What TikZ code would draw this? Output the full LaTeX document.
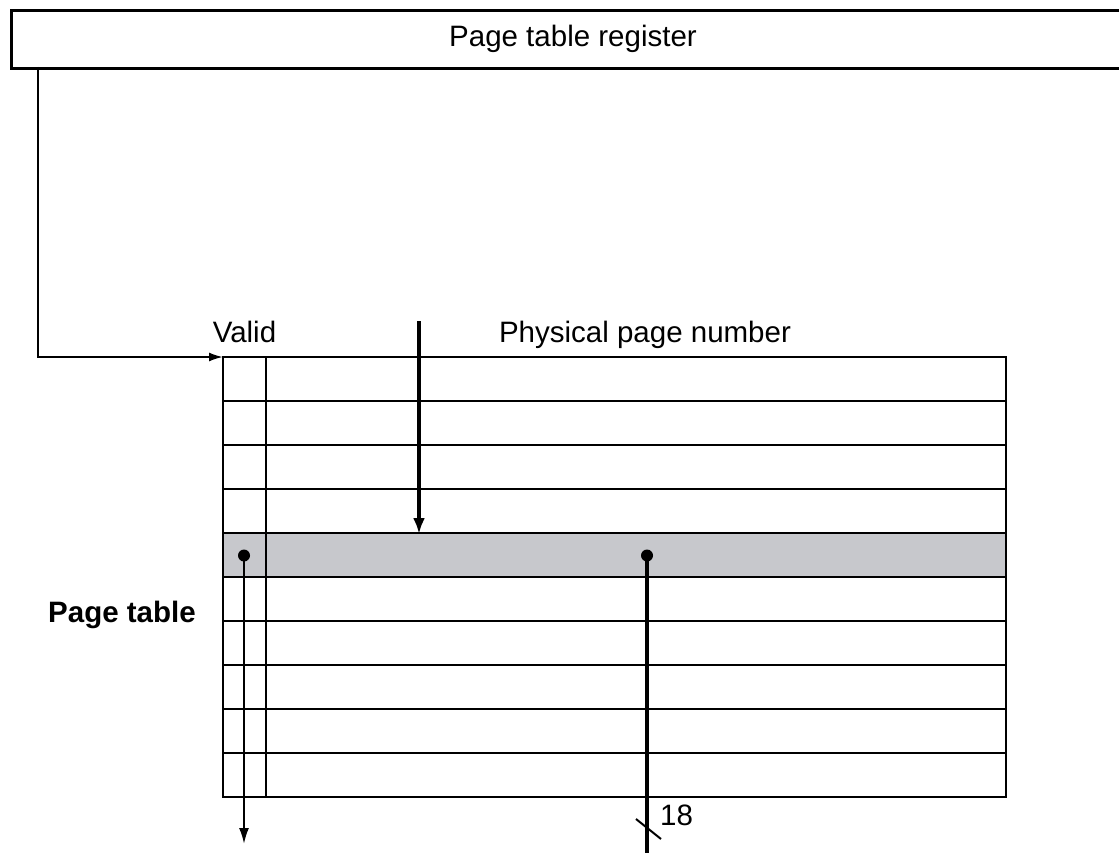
\documentclass[tikz,border=0pt]{standalone}
\usepackage{fontspec}
\setmainfont{Liberation Sans}
\usetikzlibrary{arrows.meta}
\definecolor{rowgray}{RGB}{199,200,204}
\begin{document}
\begin{tikzpicture}[x=1pt,y=-1pt,
  thin line/.style={line width=2pt},
  thick line/.style={line width=4pt},
  lbl/.style={font=\fontsize{29.5}{32}\selectfont, inner sep=0pt},
  dot/.style={circle, fill=black, inner sep=0pt, minimum size=12pt}]
\useasboundingbox (0,0) rectangle (1119,853);
% register box
\node[draw, line width=2.8pt, minimum width=1200pt, minimum height=58pt, anchor=north west, inner sep=0pt] (reg) at (10,9) {};
\node[lbl, anchor=base] (regt) at (573,47) {Page table register};
% table
\fill[rowgray] (223,533) rectangle (1006,577);
\coordinate (tl) at (223,357);
\foreach \y in {401,445,489,533,577,621,665,709,753} \draw[thin line] (223,\y) -- (1006,\y);
\draw[thin line] (223,357) rectangle (1006,797);
\draw[thin line] (266,357) -- (266,797);
% register pointer
\coordinate (rs) at (38,67);
\draw[thin line, -{Latex[length=14pt,width=9pt]}] (rs) |- (tl);
% labels
\node[lbl, anchor=base] (valid) at (244.5,342) {Valid};
\node[lbl, anchor=base] (ppn) at (645,342) {Physical page number};
\node[lbl, anchor=base, font=\bfseries\fontsize{29.5}{32}\selectfont] (pt) at (122,622) {Page table};
% index arrow
\coordinate (ia) at (419,321);
\coordinate (ib) at (419,534);
\draw[thick line, -{Latex[length=16pt,width=12pt]}] (ia) -- (ib);
% valid dot
\node[dot] (vd) at (244,555.5) {};
\coordinate (ve) at (244,844);
\draw[thin line, -{Latex[length=16pt,width=10pt]}] (vd.center) -- (ve);
% ppn dot
\node[dot] (pd) at (647,555.5) {};
\coordinate (pe) at (647,853);
\draw[thick line] (pd.center) -- (pe);
\coordinate (sa) at (636,819);
\coordinate (sb) at (661,839);
\draw[thin line] (sa) -- (sb);
\node[lbl, anchor=base west] (n18) at (660,825) {18};
\end{tikzpicture}
\end{document}
